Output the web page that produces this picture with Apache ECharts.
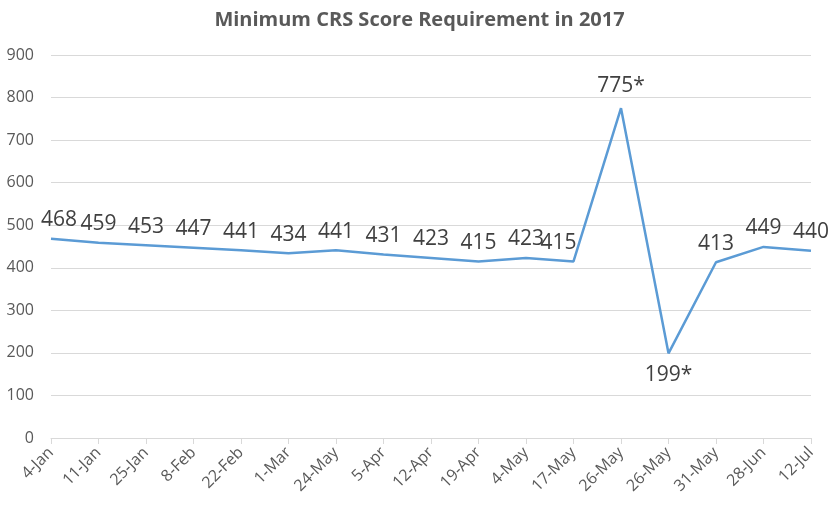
<!DOCTYPE html>
<html><head><meta charset="utf-8">
<script src="https://cdn.jsdelivr.net/npm/echarts@6/dist/echarts.min.js"></script>
<style>html,body{margin:0;padding:0;background:#fff}#c{width:839px;height:509px}</style>
</head><body><div id="c"></div>
<script>
const titleText = 'Minimum CRS Score Requirement in 2017';
const categories = ['4-Jan','11-Jan','25-Jan','8-Feb','22-Feb','1-Mar','24-May','5-Apr','12-Apr','19-Apr','4-May','17-May','26-May','26-May','31-May','28-Jun','12-Jul'];
const scores = [468,459,453,447,441,434,441,431,423,415,423,415,775,199,413,449,440];
const labelTexts = ['468','459','453','447','441','434','441','431','423','415','423','415','775*','199*','413','449','440'];
const yTicks = [0,100,200,300,400,500,600,700,800,900];

const font = '"Open Sans", "Noto Sans", sans-serif';
const labelShift = {0:8, 11:-15};
const data = scores.map((v,i)=>{
  const d = {value:v};
  if (i === 12) d.label = {distance:12};
  if (i === 13) d.label = {position:'bottom', distance:11};
  return d;
});

const chart = echarts.init(document.getElementById('c'));
chart.setOption({
  animation:false,
  title:{text:titleText,left:'center',top:5,textStyle:{fontFamily:font,fontSize:20,fontWeight:'bold',color:'#595959'}},
  grid:{left:51,right:28,top:55,bottom:71},
  xAxis:{type:'category',data:categories,boundaryGap:false,
    axisLine:{lineStyle:{color:'#d9d9d9',width:1}},
    axisTick:{show:true,length:6,lineStyle:{color:'#d9d9d9'}},
    axisLabel:{rotate:45,interval:0,margin:12,fontFamily:font,fontSize:16,color:'#595959'}},
  yAxis:{type:'value',min:yTicks[0],max:yTicks[yTicks.length-1],interval:100,
    axisLine:{show:false},axisTick:{show:false},
    splitLine:{lineStyle:{color:'#d9d9d9',width:1}},
    axisLabel:{margin:17,fontFamily:font,fontSize:16,color:'#595959'}},
  series:[{type:'line',data:data,symbol:'circle',symbolSize:0,showSymbol:true,
    itemStyle:{color:'#5B9BD5'},
    lineStyle:{color:'#5B9BD5',width:2.5},
    labelLayout:function(p){ return {hideOverlap:false, dx: labelShift[p.dataIndex] || 0}; },
    label:{show:true,position:'top',distance:8,fontFamily:font,fontSize:21,color:'#404040',
      formatter:p=>labelTexts[p.dataIndex]}}]
});
</script></body></html>
